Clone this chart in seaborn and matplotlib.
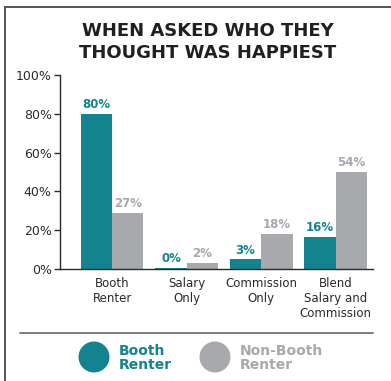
"""
Happiest pay structure: booth renters vs non-booth renters, grouped bars.
"""

import pandas as pd
import matplotlib.pyplot as plt
from matplotlib.lines import Line2D
from matplotlib.patches import Ellipse
import seaborn as sns

# ── data (bar heights, labels as printed) ───────────────────────────────────
categories = ["Booth\nRenter", "Salary\nOnly", "Commission\nOnly", "Blend\nSalary and\nCommission"]
groups = ["Booth Renter", "Non-Booth Renter"]
booth_values = [80, 0.6, 5, 16.6]
non_booth_values = [29, 3.2, 18, 50]
booth_labels = ["80%", "0%", "3%", "16%"]
non_booth_labels = ["27%", "2%", "18%", "54%"]
y_ticks = [0, 20, 40, 60, 80, 100]

TEAL = "#13848F"
GRAY = "#A7A9AC"
DARK = "#2B2A2B"
palette = {groups[0]: TEAL, groups[1]: GRAY}

sns.set_style("ticks")
plt.rcParams["font.family"] = ["DejaVu Sans"]

df = pd.DataFrame({
    "category": categories * 2,
    "group": [groups[0]] * len(categories) + [groups[1]] * len(categories),
    "value": booth_values + non_booth_values,
})

W, H = 391, 381
fig = plt.figure(figsize=(W / 100, H / 100), dpi=100)
ax = fig.add_axes([60 / W, 1 - 269 / H, 313 / W, 194 / H])

sns.barplot(data=df, x="category", y="value", hue="group", palette=palette,
            width=0.84, gap=0, saturation=1, legend=False, ax=ax)

for container, labels, color in zip(ax.containers, [booth_labels, non_booth_labels], [TEAL, GRAY]):
    for bar in container:
        bar.set_edgecolor("none")
    ax.bar_label(container, labels=labels, padding=2, color=color,
                 fontsize=8.5, fontweight="bold")

ax.set_ylim(0, 100)
ax.set_xlim(-0.7, 3.5)
ax.set_yticks(y_ticks)
ax.set_yticklabels([f"{t}%" for t in y_ticks])
ax.set_xlabel("")
ax.set_ylabel("")
sns.despine(ax=ax, top=True, right=True)
for side in ["left", "bottom"]:
    ax.spines[side].set_color(DARK)
    ax.spines[side].set_linewidth(1.0)
ax.tick_params(axis="y", length=4, width=1, color=DARK, labelsize=9, labelcolor=DARK, pad=2)
ax.tick_params(axis="x", length=0, labelsize=8.5, labelcolor=DARK, pad=6)

# ── title ───────────────────────────────────────────────────────────────────
fig.text(208 / W, 1 - 42 / H, "WHEN ASKED WHO THEY\nTHOUGHT WAS HAPPIEST",
         ha="center", va="center", fontsize=13, fontweight="bold",
         color="#231F20", linespacing=1.3)

# ── frame and separator ────────────────────────────────────────────────────
fig.add_artist(Line2D([4.5 / W, 1], [1 - 6.5 / H, 1 - 6.5 / H], color="#555555", lw=1.4))
fig.add_artist(Line2D([4.5 / W, 4.5 / W], [0, 1 - 6.5 / H], color="#555555", lw=1.4))
fig.add_artist(Line2D([20 / W, 373 / W], [1 - 333 / H, 1 - 333 / H], color="#666666", lw=1.2))

# ── custom legend ──────────────────────────────────────────────────────────
for cx, text_x, name, label in [(94, 119, groups[0], "Booth\nRenter"),
                                (215, 240, groups[1], "Non-Booth\nRenter")]:
    fig.add_artist(Ellipse((cx / W, 1 - 357 / H), 31 / W, 31 / H,
                           facecolor=palette[name], edgecolor="none"))
    fig.text(text_x / W, 1 - 358 / H, label, ha="left", va="center",
             fontsize=10, fontweight="bold", color=palette[name], linespacing=1.0)

fig.savefig("out.png", dpi=100)
